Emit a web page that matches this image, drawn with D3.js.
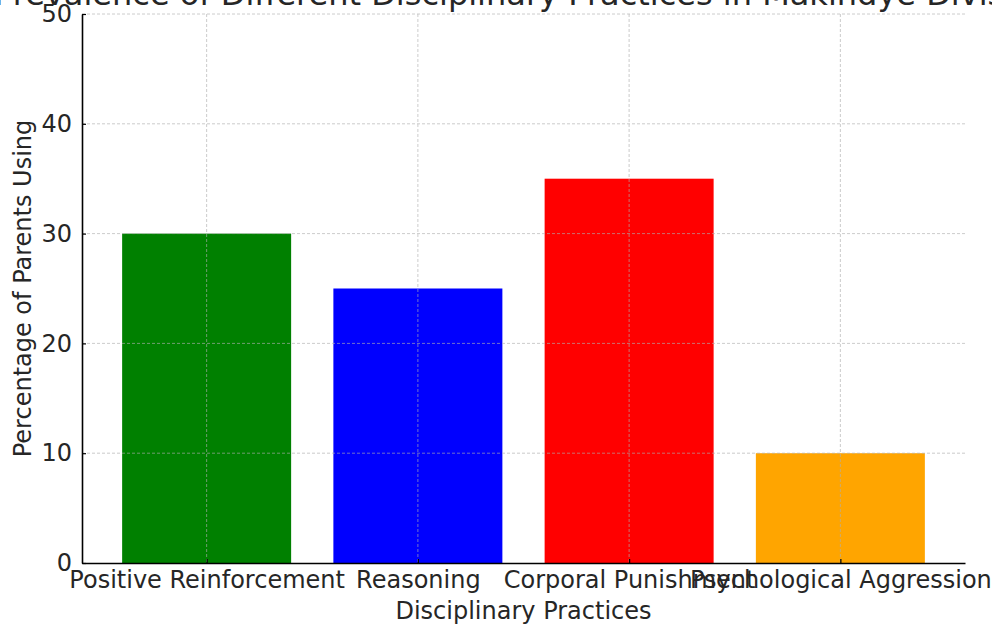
<!DOCTYPE html>
<html><head><meta charset="utf-8">
<script src="https://cdn.jsdelivr.net/npm/d3@7"></script>
<style>
body{margin:0;background:#fff;}
svg{display:block;font-family:"DejaVu Sans",sans-serif;}
</style></head>
<body>
<svg id="chart" width="992" height="626"></svg>
<script>
const categories = ["Positive Reinforcement","Reasoning","Corporal Punishment","Psychological Aggression"];
const values = [30, 25, 35, 10];
const colors = ["#008000","#0000ff","#ff0000","#ffa500"];
const yTicks = [0,10,20,30,40,50];
const title = "Prevalence of Different Disciplinary Practices in Makindye Division";
const xLabel = "Disciplinary Practices";
const yLabel = "Percentage of Parents Using";

(function(){
const svg = d3.select("#chart");
const pl = 82, pr = 965, pt = 14, pb = 563;
const fs = 24;

const x = d3.scaleLinear().domain([-0.59, 3.59]).range([pl, pr]);
const y = d3.scaleLinear().domain([0, 50]).range([pb, pt]);
const bw = x(0.4) - x(-0.4);

// bars
svg.append("g").selectAll("rect").data(values).join("rect")
  .attr("x", (d,i) => x(i) - bw/2)
  .attr("y", d => y(d))
  .attr("width", bw)
  .attr("height", d => y(0) - y(d))
  .attr("fill", (d,i) => colors[i]);

// grid
const grid = svg.append("g").attr("stroke", "#b0b0b0").attr("stroke-width", 0.8)
  .attr("stroke-dasharray", "3,2").attr("opacity", 0.8);
grid.selectAll(".gy").data(yTicks.slice(1)).join("line")
  .attr("x1", pl).attr("x2", pr)
  .attr("y1", d => y(d)).attr("y2", d => y(d));
grid.selectAll(".gx").data(categories).join("line")
  .attr("x1", (d,i) => x(i)).attr("x2", (d,i) => x(i))
  .attr("y1", pt).attr("y2", pb);

// axes
const yAxis = d3.axisLeft(y).tickValues(yTicks).tickSizeInner(-4).tickSizeOuter(0).tickPadding(10);
const gy = svg.append("g").attr("transform", `translate(${pl},0)`).call(yAxis);
gy.select(".domain").attr("stroke", "#000").attr("stroke-width", 1.6);
gy.selectAll(".tick line").attr("stroke", "#000").attr("stroke-width", 1.2);
gy.selectAll("text").attr("font-size", fs).attr("fill", "#262626").attr("font-family", "DejaVu Sans");

const xAxis = d3.axisBottom(x).tickValues(d3.range(categories.length))
  .tickFormat(i => categories[i]).tickSizeInner(-4).tickSizeOuter(0).tickPadding(8);
const gx = svg.append("g").attr("transform", `translate(0,${pb})`).call(xAxis);
gx.select(".domain").attr("stroke", "#000").attr("stroke-width", 1.6);
gx.selectAll(".tick line").attr("stroke", "#000").attr("stroke-width", 1.2);
gx.selectAll("text").attr("font-size", fs).attr("fill", "#262626").attr("font-family", "DejaVu Sans");

// labels
svg.append("text").attr("x", (pl+pr)/2).attr("y", 619).attr("text-anchor", "middle")
  .attr("font-size", fs).attr("fill", "#262626").text(xLabel);
svg.append("text").attr("transform", `translate(31,${(pt+pb)/2}) rotate(-90)`)
  .attr("text-anchor", "middle").attr("font-size", fs).attr("fill", "#262626").text(yLabel);
svg.append("text").attr("x", (pl+pr)/2).attr("y", 5).attr("text-anchor", "middle")
  .attr("font-size", 32).attr("fill", "#262626").text(title);
})();
</script>
</body></html>
